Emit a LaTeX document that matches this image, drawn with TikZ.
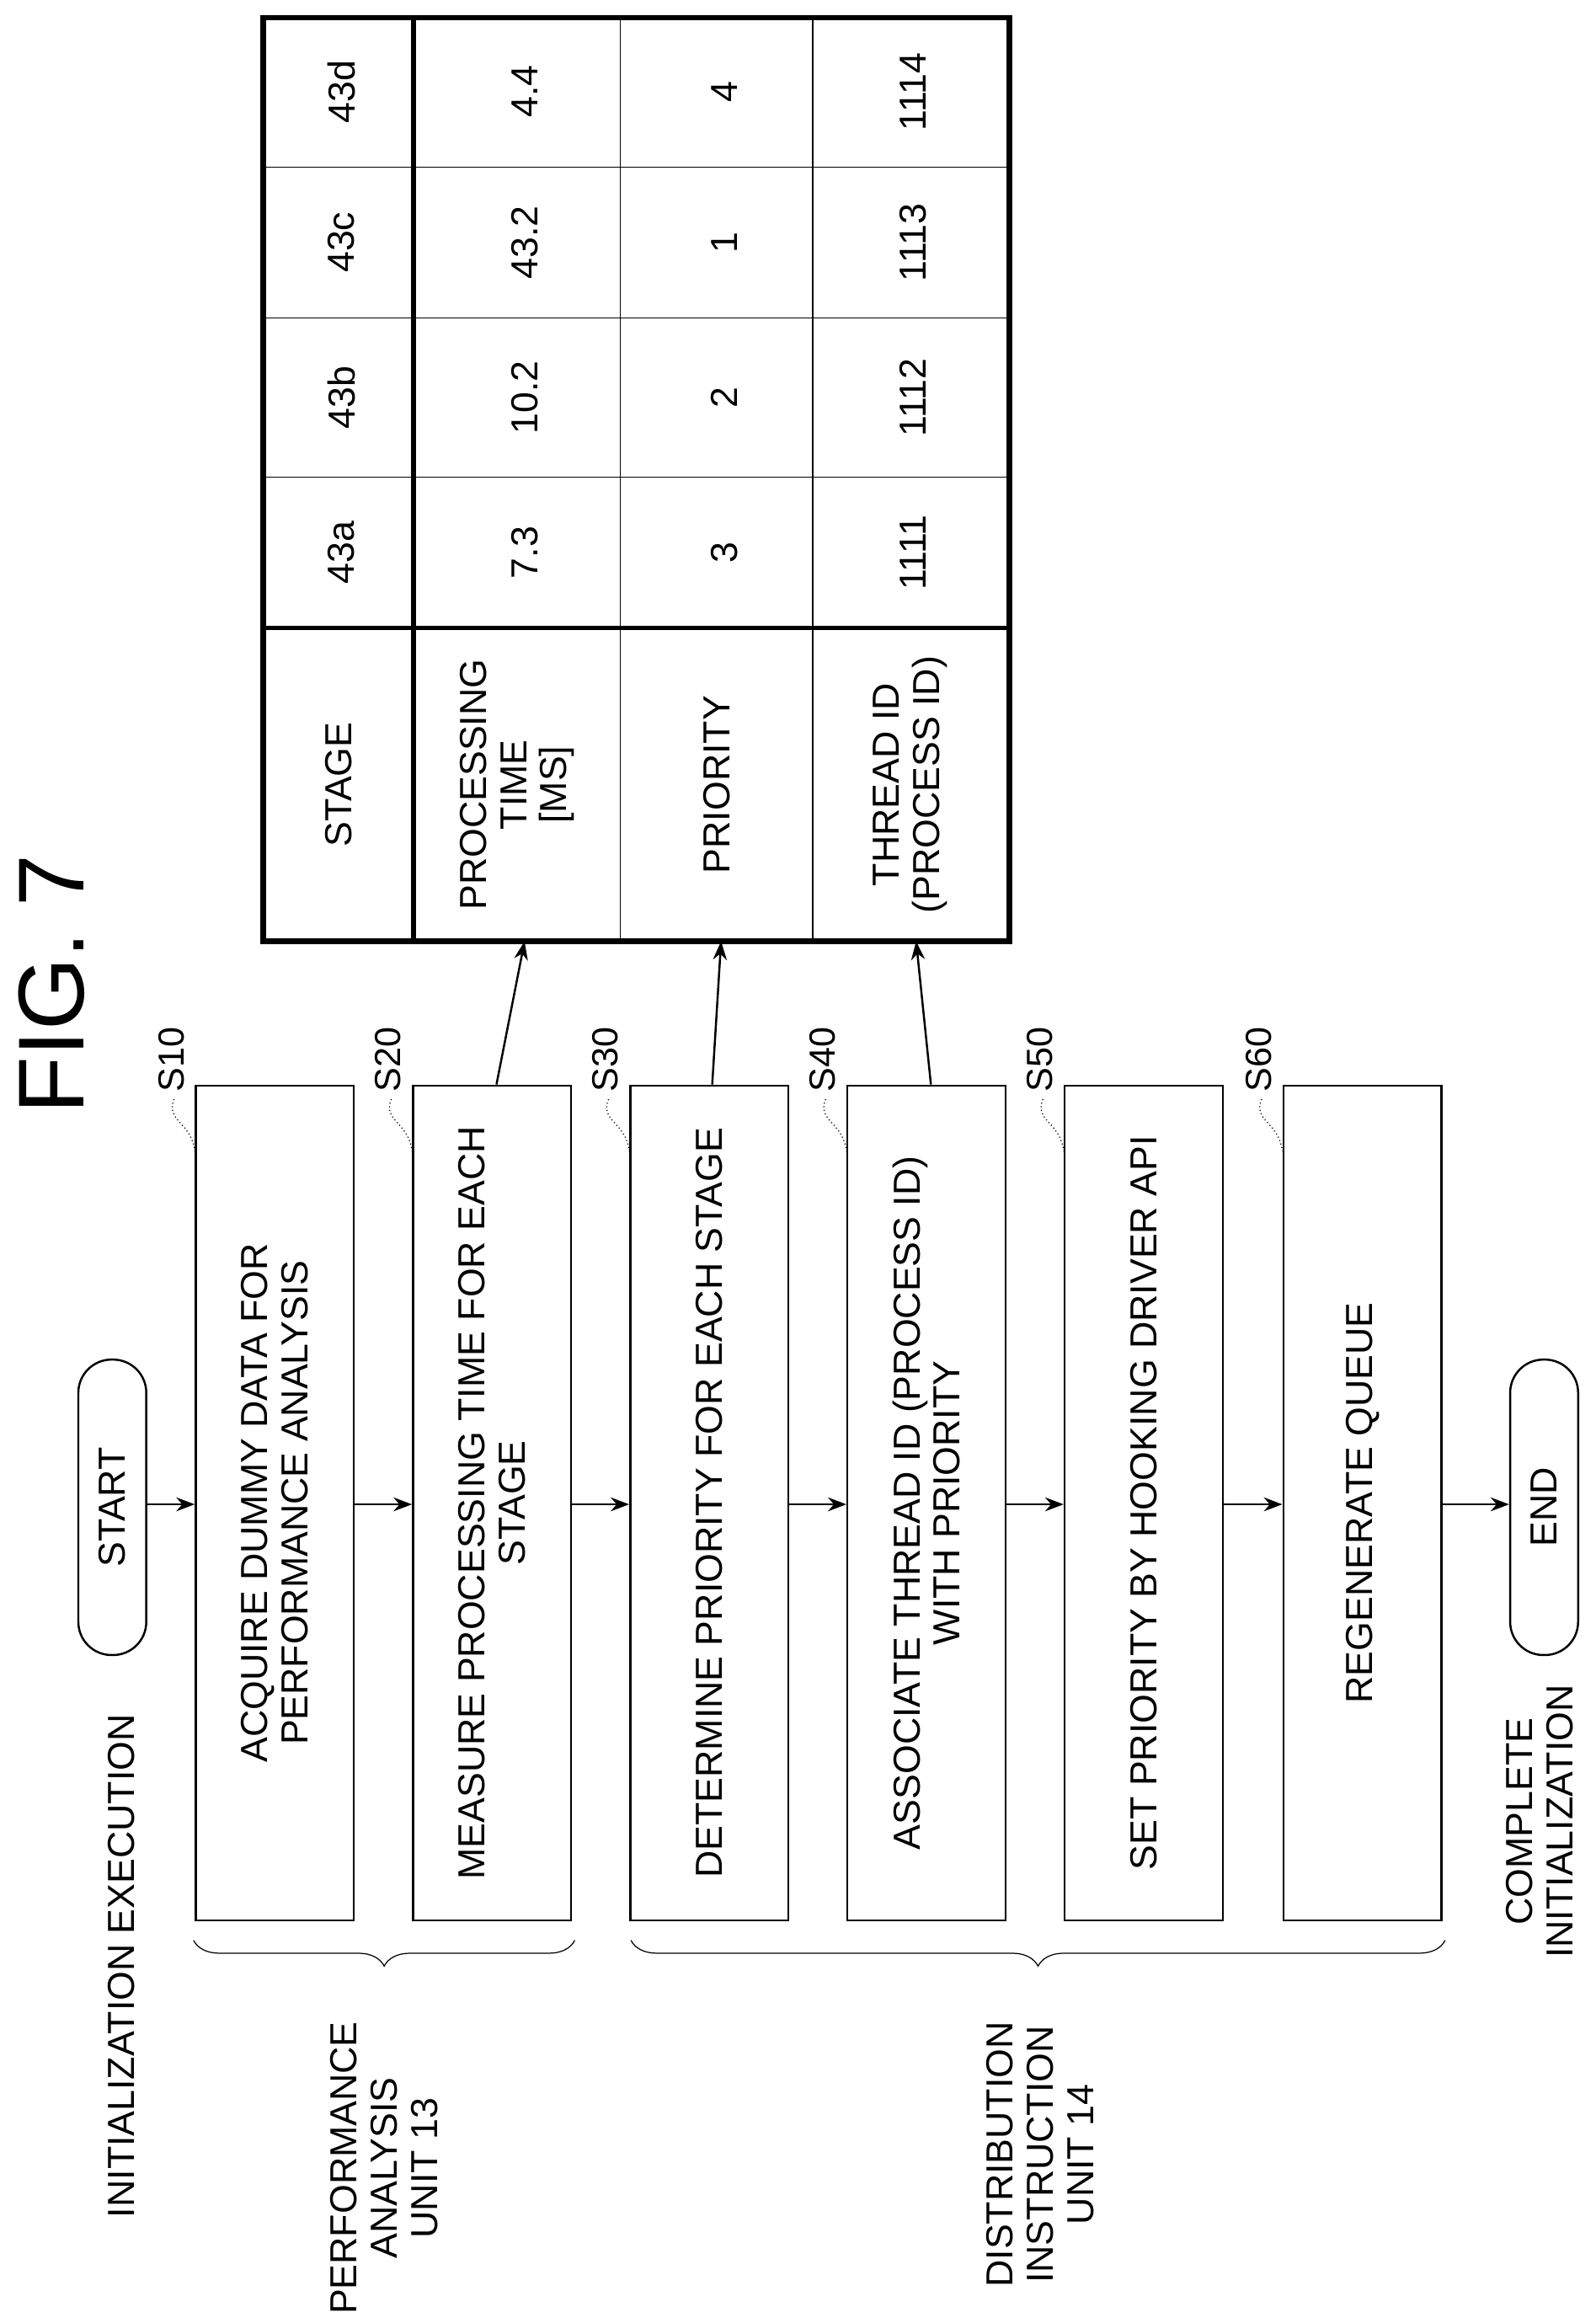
\documentclass[tikz,border=0pt]{standalone}
\usepackage{fontspec}
\setmainfont{Liberation Sans}
\usetikzlibrary{
    calc,
    arrows.meta,
    decorations.pathreplacing
}

\begin{document}
\begin{tikzpicture}[x=0.02cm, y=-0.02cm,
        every node/.style={font=\fontsize{14.5}{15.5}\selectfont, align=center},
        step box/.style={draw, thick, minimum width=2.14cm, minimum height=11.3cm, inner sep=0pt},
        terminal/.style={draw, thick, rounded corners=0.45cm, minimum width=0.92cm, minimum height=4cm, inner sep=0pt},
        step text/.style={rotate=90},
        cell/.style={rotate=90},
        flow/.style={thick, -{Stealth[length=2.5mm]}},
        step tag/.style={font=\fontsize{14}{15}\selectfont, rotate=90, anchor=west, inner sep=1pt},
        side label/.style={rotate=90, anchor=east, inner sep=1pt}
    ]
    \useasboundingbox (0,0) rectangle (1080,1572);

    % title
    \node[rotate=90, font=\fontsize{36}{38}\selectfont] (fig) at (35,666) {FIG. 7};

    % table
    \coordinate (T0) at (178,12);
    \coordinate (T1) at (683,637);
    \foreach \x in {420,550} \draw (\x,12) -- (\x,637);
    \foreach \y in {113,215,323} \draw (178,\y) -- (683,\y);
    \draw[line width=1.8pt] (280,12) -- (280,637);
    \draw[line width=1.8pt] (178,425) -- (683,425);
    \draw[line width=2.2pt] (T0) rectangle (T1);

    \node[cell] (hStage) at (229,531) {STAGE};
    \node[cell] (hTime) at (350,531) {PROCESSING\\TIME\\{[MS]}};
    \node[cell] (hPrio) at (485,531) {PRIORITY};
    \node[cell] (hThread) at (616,531) {THREAD ID\\(PROCESS ID)};

    \foreach \y/\st/\tm/\pr/\id in {374/43a/7.3/3/1111, 269/43b/10.2/2/1112, 164/43c/43.2/1/1113, 62/43d/4.4/4/1114} {
        \node[cell] at (231,\y) {\st};
        \node[cell] at (355,\y) {\tm};
        \node[cell] at (490,\y) {\pr};
        \node[cell] at (618,\y) {\id};
    }

    % flow
    \node[terminal] (start) at (76,1020) {};
    \node[step text] at (start) {START};
    \node[step box] (s10) at (186,1017) {};
    \node[step box] (s20) at (333,1017) {};
    \node[step box] (s30) at (480,1017) {};
    \node[step box] (s40) at (627,1017) {};
    \node[step box] (s50) at (774,1017) {};
    \node[step box] (s60) at (922,1017) {};
    \node[terminal] (end) at (1045,1020) {};
    \node[step text] at (end) {END};

    \node[step text] at (s10) {ACQUIRE DUMMY DATA FOR\\PERFORMANCE ANALYSIS};
    \node[step text] at (s20) {MEASURE PROCESSING TIME FOR EACH\\STAGE};
    \node[step text] at (s30) {DETERMINE PRIORITY FOR EACH STAGE};
    \node[step text] at (s40) {ASSOCIATE THREAD ID (PROCESS ID)\\WITH PRIORITY};
    \node[step text] at (s50) {SET PRIORITY BY HOOKING DRIVER API};
    \node[step text] at (s60) {REGENERATE QUEUE};

    \coordinate (row) at (0,1018);
    \draw[flow] (start.east |- row) -- (s10.west |- row);
    \draw[flow] (s10.east |- row) -- (s20.west |- row);
    \draw[flow] (s20.east |- row) -- (s30.west |- row);
    \draw[flow] (s30.east |- row) -- (s40.west |- row);
    \draw[flow] (s40.east |- row) -- (s50.west |- row);
    \draw[flow] (s50.east |- row) -- (s60.west |- row);
    \draw[flow] (s60.east |- row) -- (end.west |- row);

    % results written to table
    \coordinate (in20) at (355,637);
    \coordinate (in30) at (488,637);
    \coordinate (in40) at (620,637);
    \draw[flow] ([xshift=0.06cm]s20.north) -- (in20);
    \draw[flow] ([xshift=0.04cm]s30.north) -- (in30);
    \draw[flow] ([xshift=0.06cm]s40.north) -- (in40);

    % step tags
    \foreach \s/\t in {s10/S10,s20/S20,s30/S30,s40/S40,s50/S50,s60/S60} {
        \draw[densely dotted] ([xshift=-0.28cm,yshift=-0.2cm]\s.north west) .. controls ([xshift=-0.4cm,yshift=-0.5cm]\s.north west) and ([xshift=-0.05cm,yshift=-0.5cm]\s.north west) .. ([yshift=-0.9cm]\s.north west);
        \node[step tag] at ([xshift=-0.32cm,yshift=-0.14cm]\s.north west) {\t};
    }

    % side labels
    \node[side label] (init) at (82,1158) {INITIALIZATION EXECUTION};
    \draw[decorate, decoration={brace, amplitude=3.5mm}] (389,1313) -- (131,1313);
    \node[side label] (pa) at (260,1366) {PERFORMANCE\\ANALYSIS\\UNIT 13};
    \draw[decorate, decoration={brace, amplitude=3.5mm}] (978,1313) -- (427,1313);
    \node[side label] (di) at (704,1366) {DISTRIBUTION\\INSTRUCTION\\UNIT 14};
    \node[side label] (done) at (1042,1138) {COMPLETE\\INITIALIZATION};
\end{tikzpicture}
\end{document}
